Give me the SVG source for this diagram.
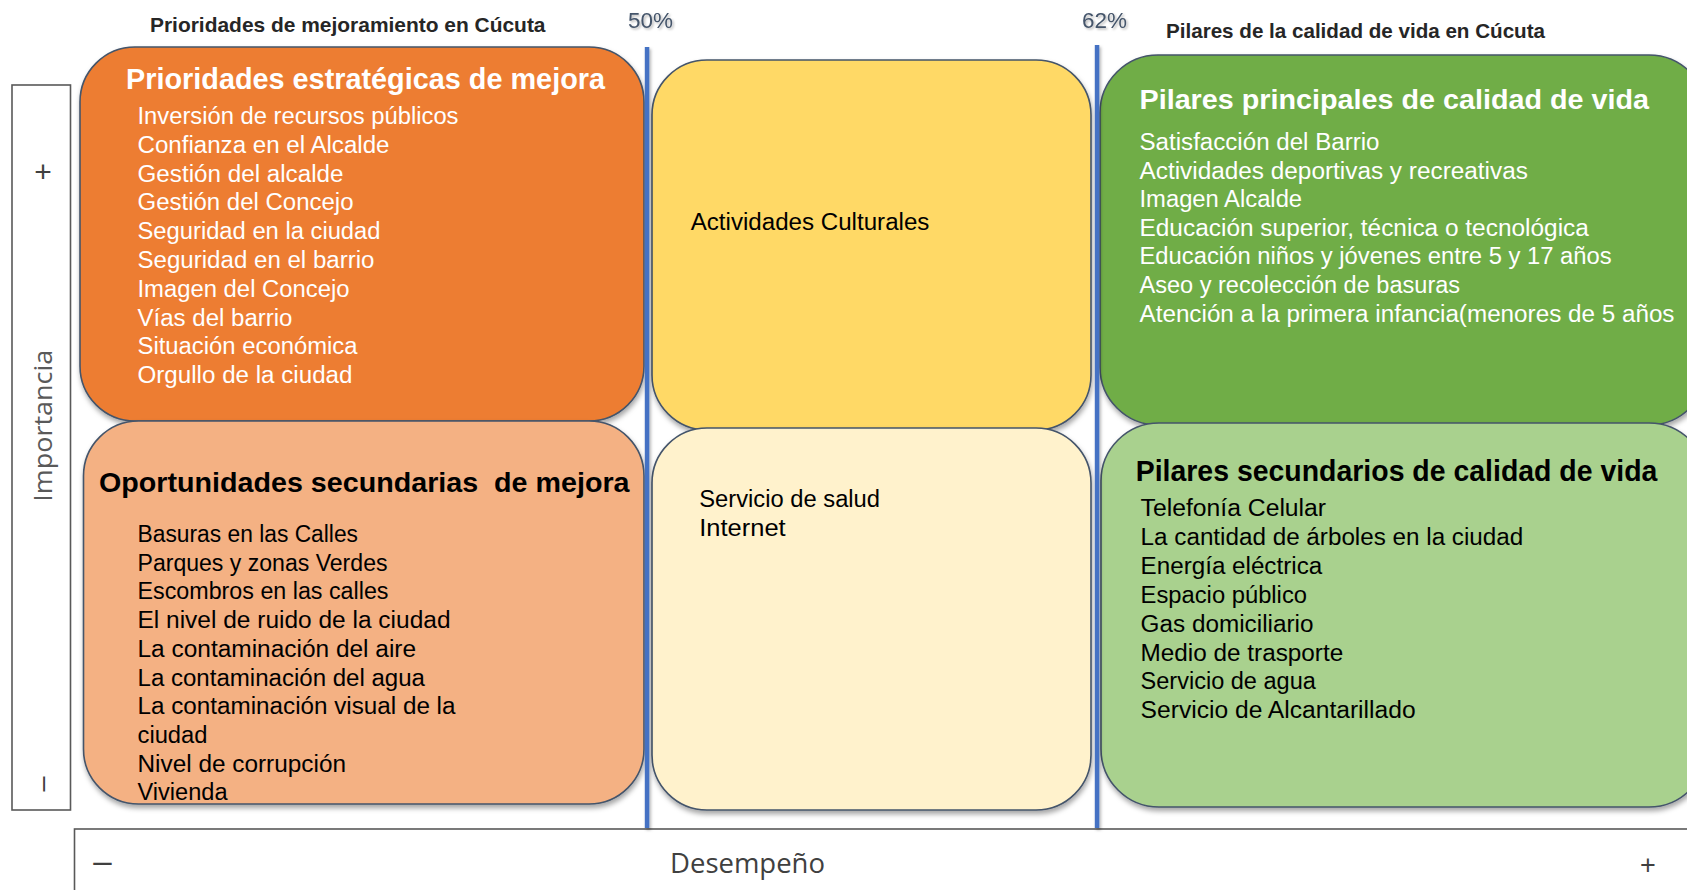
<svg xmlns="http://www.w3.org/2000/svg" width="1687" height="890" viewBox="0 0 1687 890">
<defs>
<filter id="sh" x="-10%" y="-10%" width="120%" height="125%">
<feDropShadow dx="1" dy="3.5" stdDeviation="2.5" flood-color="#000" flood-opacity="0.35"/>
</filter>
<filter id="lsh" filterUnits="userSpaceOnUse" x="0" y="0" width="1687" height="890">
<feDropShadow dx="1.5" dy="2" stdDeviation="1.5" flood-color="#000" flood-opacity="0.3"/>
</filter>
<filter id="tsh" x="-20%" y="-30%" width="140%" height="160%">
<feDropShadow dx="1.5" dy="1.5" stdDeviation="1.2" flood-color="#000" flood-opacity="0.3"/>
</filter>
</defs>
<style>
text{font-family:"Liberation Sans",Arial,sans-serif}
.box{stroke:#44546A;stroke-width:1.6}
.b{font-size:23.5px}
.h{font-size:29px;font-weight:bold}
.w{fill:#fff}
.k{fill:#000}
.hd{font-size:21px;font-weight:bold;fill:#262626}
.pc{font-size:22px;fill:#44546A}
.ax{fill:#404040}
.axis{fill:none;stroke:#595959;stroke-width:1.6}
.div{fill:#4472C4}
</style>
<rect width="1687" height="890" fill="#fff"/>

<g id="axes">
<rect class="axis" x="12" y="85" width="58.5" height="725"/>
<rect class="axis" x="74.5" y="829" width="1650" height="100"/>
<text class="ax" x="43" y="181.5" font-size="30" text-anchor="middle">+</text>
<text fill="#595959" font-size="25.5" transform="translate(51.7,501.7) rotate(-90)" textLength="152" lengthAdjust="spacingAndGlyphs" style="font-family:'Open Sans',sans-serif">Importancia</text>
<text class="ax" font-size="27" text-anchor="middle" transform="translate(50.5,784) rotate(-90)">–</text>
<text class="ax" x="93.3" y="872" font-size="33" textLength="18.4" lengthAdjust="spacingAndGlyphs">–</text>
<text x="670" y="873.3" font-size="28" fill="#404040" textLength="155" lengthAdjust="spacingAndGlyphs" style="font-family:'Open Sans',sans-serif">Desempeño</text>
<text class="ax" x="1648" y="873.5" font-size="27" text-anchor="middle">+</text>
</g>

<g id="headers">
<text class="hd" x="150" y="32" textLength="395.5" lengthAdjust="spacingAndGlyphs">Prioridades de mejoramiento en Cúcuta</text>
<text class="hd" x="1166" y="38" textLength="379" lengthAdjust="spacingAndGlyphs">Pilares de la calidad de vida en Cúcuta</text>
<text class="pc" x="628" y="28" textLength="45" lengthAdjust="spacingAndGlyphs" filter="url(#tsh)">50%</text>
<text class="pc" x="1082" y="28" textLength="45" lengthAdjust="spacingAndGlyphs" filter="url(#tsh)">62%</text>
</g>

<g id="n-prioridades">
<rect class="box" x="80" y="47" width="564" height="374" rx="55" fill="#ED7D31" filter="url(#sh)"/>
<text class="h w" x="126" y="89" textLength="479" lengthAdjust="spacingAndGlyphs">Prioridades estratégicas de mejora</text>
<g class="b w">
<text x="137.5" y="124" textLength="321" lengthAdjust="spacingAndGlyphs">Inversión de recursos públicos</text>
<text x="137.5" y="152.8" textLength="252" lengthAdjust="spacingAndGlyphs">Confianza en el Alcalde</text>
<text x="137.5" y="181.6" textLength="206" lengthAdjust="spacingAndGlyphs">Gestión del alcalde</text>
<text x="137.5" y="210.4" textLength="216" lengthAdjust="spacingAndGlyphs">Gestión del Concejo</text>
<text x="137.5" y="239.2" textLength="243" lengthAdjust="spacingAndGlyphs">Seguridad en la ciudad</text>
<text x="137.5" y="268" textLength="237" lengthAdjust="spacingAndGlyphs">Seguridad en el barrio</text>
<text x="137.5" y="296.8" textLength="212" lengthAdjust="spacingAndGlyphs">Imagen del Concejo</text>
<text x="137.5" y="325.6" textLength="155" lengthAdjust="spacingAndGlyphs">Vías del barrio</text>
<text x="137.5" y="354.4" textLength="220" lengthAdjust="spacingAndGlyphs">Situación económica</text>
<text x="137.5" y="383.2" textLength="215" lengthAdjust="spacingAndGlyphs">Orgullo de la ciudad</text>
</g>
</g>

<g id="n-cultural">
<rect class="box" x="652" y="60" width="439" height="370" rx="55" fill="#FFD966" filter="url(#sh)"/>
<text class="b k" x="690.7" y="230" textLength="238.7" lengthAdjust="spacingAndGlyphs">Actividades Culturales</text>
</g>

<g id="n-pilares-principales">
<rect class="box" x="1100" y="55" width="607" height="370" rx="58" fill="#70AD47" filter="url(#sh)"/>
<text class="h w" x="1139.5" y="109.3" textLength="509.5" lengthAdjust="spacingAndGlyphs" style="font-size:27px">Pilares principales de calidad de vida</text>
<g class="b w">
<text x="1139.5" y="150" textLength="240" lengthAdjust="spacingAndGlyphs">Satisfacción del Barrio</text>
<text x="1139.5" y="178.6" textLength="388.4" lengthAdjust="spacingAndGlyphs">Actividades deportivas y recreativas</text>
<text x="1139.5" y="207.2" textLength="162.6" lengthAdjust="spacingAndGlyphs">Imagen Alcalde</text>
<text x="1139.5" y="235.8" textLength="449.4" lengthAdjust="spacingAndGlyphs">Educación superior, técnica o tecnológica</text>
<text x="1139.5" y="264.4" textLength="472.2" lengthAdjust="spacingAndGlyphs">Educación niños y jóvenes entre 5 y 17 años</text>
<text x="1139.5" y="293" textLength="320.6" lengthAdjust="spacingAndGlyphs">Aseo y recolección de basuras</text>
<text x="1139.5" y="321.6" textLength="535" lengthAdjust="spacingAndGlyphs">Atención a la primera infancia(menores de 5 años</text>
</g>
</g>

<g id="n-oportunidades">
<rect class="box" x="83.5" y="421" width="560.5" height="383" rx="55" fill="#F4B183" filter="url(#sh)"/>
<text class="h k" x="99" y="491.7" textLength="530.5" lengthAdjust="spacingAndGlyphs" style="font-size:28px;white-space:pre">Oportunidades secundarias  de mejora</text>
<g class="b k">
<text x="137.5" y="542" textLength="220.5" lengthAdjust="spacingAndGlyphs">Basuras en las Calles</text>
<text x="137.5" y="570.7" textLength="250" lengthAdjust="spacingAndGlyphs">Parques y zonas Verdes</text>
<text x="137.5" y="599.4" textLength="251" lengthAdjust="spacingAndGlyphs">Escombros en las calles</text>
<text x="137.5" y="628.1" textLength="313" lengthAdjust="spacingAndGlyphs">El nivel de ruido de la ciudad</text>
<text x="137.5" y="656.8" textLength="278.6" lengthAdjust="spacingAndGlyphs">La contaminación del aire</text>
<text x="137.5" y="685.5" textLength="287.5" lengthAdjust="spacingAndGlyphs">La contaminación del agua</text>
<text x="137.5" y="714.2" textLength="318" lengthAdjust="spacingAndGlyphs">La contaminación visual de la</text>
<text x="137.5" y="742.9" textLength="70" lengthAdjust="spacingAndGlyphs">ciudad</text>
<text x="137.5" y="771.6" textLength="208.5" lengthAdjust="spacingAndGlyphs">Nivel de corrupción</text>
<text x="137.5" y="800.3" textLength="90" lengthAdjust="spacingAndGlyphs">Vivienda</text>
</g>
</g>

<g id="n-salud">
<rect class="box" x="652" y="428" width="439" height="382" rx="55" fill="#FFF2CC" filter="url(#sh)"/>
<g class="b k">
<text x="699.3" y="506.7" textLength="180.7" lengthAdjust="spacingAndGlyphs">Servicio de salud</text>
<text x="699.3" y="535.7" textLength="86.4" lengthAdjust="spacingAndGlyphs">Internet</text>
</g>
</g>

<g id="n-pilares-secundarios">
<rect class="box" x="1101" y="423" width="606" height="384" rx="58" fill="#A9D18E" filter="url(#sh)"/>
<text class="h k" x="1135.7" y="480.7" textLength="521.7" lengthAdjust="spacingAndGlyphs">Pilares secundarios de calidad de vida</text>
<g class="b k">
<text x="1140.6" y="516" textLength="185.5" lengthAdjust="spacingAndGlyphs">Telefonía Celular</text>
<text x="1140.6" y="544.9" textLength="382.7" lengthAdjust="spacingAndGlyphs">La cantidad de árboles en la ciudad</text>
<text x="1140.6" y="573.8" textLength="181.6" lengthAdjust="spacingAndGlyphs">Energía eléctrica</text>
<text x="1140.6" y="602.7" textLength="166.4" lengthAdjust="spacingAndGlyphs">Espacio público</text>
<text x="1140.6" y="631.6" textLength="172.9" lengthAdjust="spacingAndGlyphs">Gas domiciliario</text>
<text x="1140.6" y="660.5" textLength="202.6" lengthAdjust="spacingAndGlyphs">Medio de trasporte</text>
<text x="1140.6" y="689.4" textLength="175.2" lengthAdjust="spacingAndGlyphs">Servicio de agua</text>
<text x="1140.6" y="718.3" textLength="275" lengthAdjust="spacingAndGlyphs">Servicio de Alcantarillado</text>
</g>
</g>

<g id="connectors">
<rect class="div" x="644.8" y="47" width="4.5" height="781" filter="url(#lsh)"/>
<rect class="div" x="1094.8" y="45" width="4.5" height="783" filter="url(#lsh)"/>
</g>
</svg>
